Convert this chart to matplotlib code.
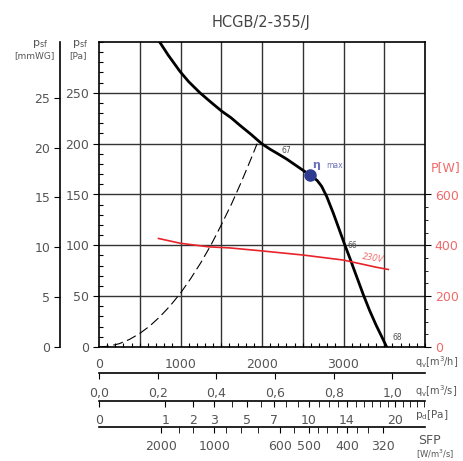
import numpy as np
import matplotlib
matplotlib.use("Agg")
import matplotlib.pyplot as plt

# fan curve (static pressure)
q_fan = [736, 850, 994, 1100, 1239, 1370, 1505, 1620, 1730, 1860, 1996, 2100, 2196, 2300, 2400, 2500,
         2589, 2630, 2680, 2732, 2794, 2875, 2957, 3018, 3080, 3130, 3190, 3243, 3320, 3400, 3470, 3530]
p_fan = [301, 287, 271, 261, 250, 241, 232, 225.5, 218, 209.5, 200, 194.5, 190, 185, 179.5, 174,
         169, 167, 163.5, 158, 148, 131.6, 113.5, 100, 87, 76, 63, 51.5, 36, 21.5, 10, 0]

# system curve (dashed)
q_sys = [0, 125, 250, 375, 500, 625, 750, 875, 1000, 1125, 1250, 1375, 1500, 1625, 1750, 1875, 1940]
p_sys = [0, 0.8, 3.3, 7.5, 13.3, 20.8, 30, 40.7, 53, 67.3, 83, 100.5, 120, 140.5, 163, 187, 200]

# absorbed power at 230V
q_pow = [730, 1000, 1350, 1600, 2000, 2500, 3000, 3400, 3550]
p_pow = [427, 408, 394, 390, 378, 362, 342, 314, 305]

eta_q, eta_p = 2589, 169

q_major = [0, 1000, 2000, 3000]
qs_ticks = [0.0, 0.2, 0.4, 0.6, 0.8, 1.0]
qs_labels = ["0,0", "0,2", "0,4", "0,6", "0,8", "1,0"]
pd_labelled = [0, 1, 2, 3, 5, 7, 10, 14, 20]
pd_all = list(range(0, 25))
sfp_major = [2000, 1000, 600, 500, 400, 320]
sfp_minor = [1500, 1250, 900, 800, 700, 550, 475, 450, 425, 375, 350]
A_OUT = 0.175  # outlet area m2, for dynamic pressure

W, H = 463, 461
GRAY = "#555555"
SALMON = "#f06a6a"


def fx(px):
    return px / W


def fy(py):
    return 1 - py / H


fig = plt.figure(figsize=(W / 100, H / 100), dpi=100)
L, R, T, B = 99, 425, 42, 347
ax = fig.add_axes([fx(L), fy(B), fx(R - L), (B - T) / H])
ax.set_xlim(0, 4000)
ax.set_ylim(0, 300)

for x in range(500, 4000, 500):
    ax.axvline(x, color="#333333", lw=1.0, zorder=1)
for y in range(50, 300, 50):
    ax.axhline(y, color="#333333", lw=1.0, zorder=1)
for s in ax.spines.values():
    s.set_color("black")
    s.set_linewidth(1.2)

ax.set_xticks(q_major)
ax.set_xticklabels([str(v) for v in q_major])
ax.set_xticks(np.arange(0, 4001, 100), minor=True)
ax.tick_params(axis="x", which="major", length=0, pad=8, labelsize=9, labelcolor=GRAY)
ax.tick_params(axis="x", which="minor", direction="in", length=3, width=0.8)
ax.set_yticks(range(0, 251, 50))
ax.set_yticks(range(0, 301, 10), minor=True)
ax.tick_params(axis="y", which="major", direction="out", length=4, pad=3, labelsize=9, labelcolor=GRAY)
ax.tick_params(axis="y", which="minor", direction="in", length=3, width=0.8)

ax.plot(q_sys, p_sys, color="black", lw=0.8, dashes=(9, 4), zorder=3)
ax.plot(q_fan, p_fan, color="black", lw=2.0, zorder=4, solid_joinstyle="round")
ax.plot([eta_q], [eta_p], "o", color="#2e3a8f", ms=8, zorder=5)
ax.text(eta_q + 30, eta_p + 3, r"$\mathbf{\eta}$", color="#6c70b8", fontsize=8, va="bottom", ha="left")
ax.text(eta_q + 200, eta_p + 5, "max", color="#6c70b8", fontsize=5.5, va="bottom", ha="left")
ax.text(2300, 189, "67", color=GRAY, fontsize=5.5, ha="center", va="bottom")
ax.text(3050, 100, "66", color=GRAY, fontsize=5.5, ha="left", va="center")
ax.text(3600, 9, "68", color=GRAY, fontsize=5.5, ha="left", va="center")

# power axis
axp = ax.twinx()
axp.set_ylim(0, 1200)
axp.plot(q_pow, p_pow, color="#e8232b", lw=1.2, zorder=3)
axp.set_yticks([0, 200, 400, 600])
axp.set_yticks(range(0, 601, 50), minor=True)
axp.tick_params(axis="y", which="major", length=4, pad=3, labelsize=9, labelcolor=SALMON)
axp.tick_params(axis="y", which="minor", length=2)
for s in axp.spines.values():
    s.set_visible(False)
axp.text(3370, 325, "230V", color=SALMON, fontsize=6, style="italic", rotation=-9, ha="center", va="bottom")

# mmWG axis
axm = fig.add_axes([fx(60), fy(B), 0.0001, (B - T) / H])
axm.set_ylim(0, 300 / 9.80665)
axm.set_yticks(range(0, 26, 5))
axm.tick_params(axis="y", length=4, pad=3, labelsize=9, labelcolor=GRAY)
axm.set_xticks([])
for k in ["top", "right", "bottom"]:
    axm.spines[k].set_visible(False)
axm.spines["left"].set_linewidth(1.2)


def bottom_axis(py):
    a = fig.add_axes([fx(L), fy(py), fx(R - L), 0.0001])
    a.set_xlim(0, 4000)
    a.set_yticks([])
    for k in ["top", "right", "left"]:
        a.spines[k].set_visible(False)
    a.spines["bottom"].set_linewidth(1.2)
    a.patch.set_visible(False)
    return a


# m3/s axis
a1 = bottom_axis(373)
a1.set_xticks([v * 3600 for v in qs_ticks])
a1.set_xticklabels(qs_labels)
a1.tick_params(axis="x", length=4, pad=6, labelsize=9, labelcolor=GRAY)

# dynamic pressure axis
a2 = bottom_axis(401)
a2.set_xticks([np.sqrt(v / 0.6) * A_OUT * 3600 for v in pd_labelled])
a2.set_xticklabels([str(v) for v in pd_labelled])
a2.set_xticks([np.sqrt(v / 0.6) * A_OUT * 3600 for v in pd_all], minor=True)
a2.tick_params(axis="x", which="both", length=4, pad=5, labelsize=9, labelcolor=GRAY)

# SFP axis
qg = np.linspace(q_pow[0], q_pow[-1], 400)
sfp_g = np.interp(qg, q_pow, p_pow) * 3600 / qg
a3 = bottom_axis(427)
a3.set_xticks(np.interp(sfp_major, sfp_g[::-1], qg[::-1]))
a3.set_xticklabels([str(v) for v in sfp_major])
a3.set_xticks(np.interp(sfp_minor, sfp_g[::-1], qg[::-1]), minor=True)
a3.tick_params(axis="x", which="both", length=4, pad=5, labelsize=9, labelcolor=GRAY)
a3.set_xlim(0, 4000)

# unit labels
fig.text(fx(415), fy(362), r"q$_\mathrm{v}$[m$^3$/h]", color=GRAY, fontsize=7, va="center")
fig.text(fx(415), fy(391), r"q$_\mathrm{v}$[m$^3$/s]", color=GRAY, fontsize=7, va="center")
fig.text(fx(415), fy(415), r"p$_\mathrm{d}$[Pa]", color=GRAY, fontsize=7.5, va="center")
fig.text(fx(418), fy(440), "SFP", color=GRAY, fontsize=9, va="center")
fig.text(fx(416), fy(454), r"[W/m$^3$/s]", color=GRAY, fontsize=6, va="center")
fig.text(fx(446), fy(168), "P[W]", color=SALMON, fontsize=9, ha="center", va="center")
fig.text(fx(40), fy(44), r"p$_\mathrm{sf}$", color=GRAY, fontsize=8, ha="center", va="center")
fig.text(fx(34), fy(56), "[mmWG]", color=GRAY, fontsize=6.5, ha="center", va="center")
fig.text(fx(80), fy(44), r"p$_\mathrm{sf}$", color=GRAY, fontsize=8, ha="center", va="center")
fig.text(fx(78), fy(56), "[Pa]", color=GRAY, fontsize=6.5, ha="center", va="center")
fig.text(fx(261), fy(22), "HCGB/2-355/J", color="#444444", fontsize=10.5, ha="center", va="center")

fig.savefig("out.png", dpi=100)
